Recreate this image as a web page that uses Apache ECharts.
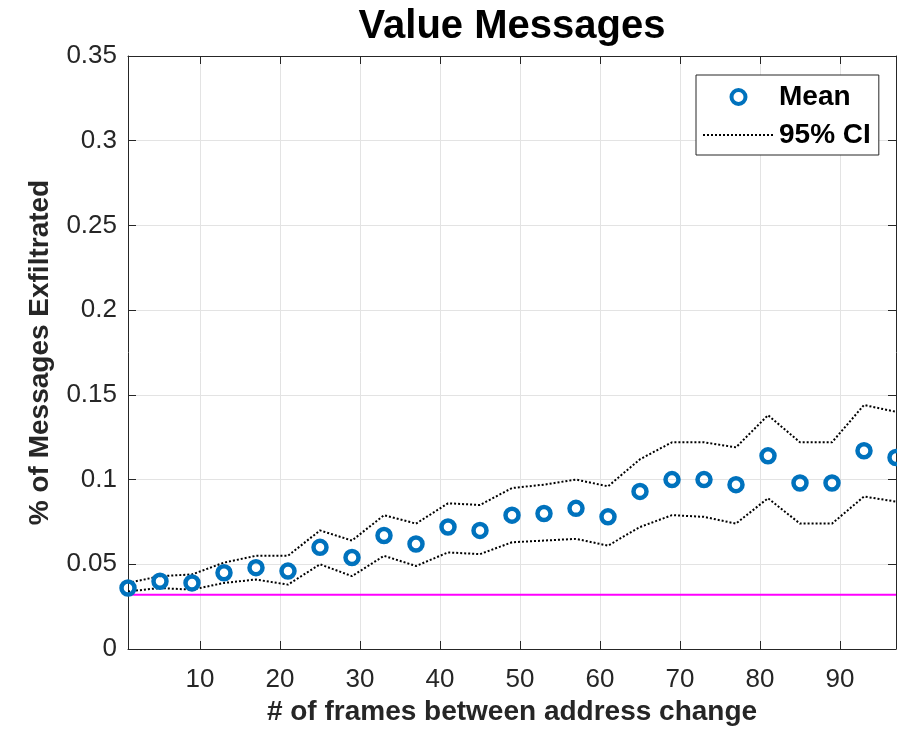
<!DOCTYPE html>
<html>
<head>
<meta charset="utf-8">
<script src="https://cdn.jsdelivr.net/npm/echarts@6/dist/echarts.min.js"></script>
<style>html,body{margin:0;padding:0;background:#fff;}#chart{width:897px;height:734px;}</style>
</head>
<body>
<div id="chart"></div>
<script>
var frames = [1, 5, 9, 13, 17, 21, 25, 29, 33, 37, 41, 45, 49, 53, 57, 61, 65, 69, 73, 77, 81, 85, 89, 93, 97];
var meanVals = [0.036, 0.040, 0.039, 0.045, 0.048, 0.046, 0.060, 0.054, 0.067, 0.062, 0.072, 0.070, 0.079, 0.080, 0.083, 0.078, 0.093, 0.100, 0.100, 0.097, 0.114, 0.098, 0.098, 0.117, 0.113];
var ciUpper = [0.039, 0.043, 0.044, 0.051, 0.055, 0.055, 0.070, 0.064, 0.079, 0.074, 0.086, 0.085, 0.095, 0.097, 0.100, 0.096, 0.112, 0.122, 0.122, 0.119, 0.138, 0.122, 0.122, 0.144, 0.140];
var ciLower = [0.034, 0.036, 0.035, 0.039, 0.041, 0.038, 0.050, 0.043, 0.055, 0.049, 0.057, 0.056, 0.063, 0.064, 0.065, 0.061, 0.072, 0.079, 0.078, 0.074, 0.089, 0.074, 0.074, 0.090, 0.087];
var baselineX = [1, 97];
var baselineY = [0.032, 0.032];
var xTicks = [10, 20, 30, 40, 50, 60, 70, 80, 90];

function pairs(xs, ys) { return xs.map(function (x, i) { return [x, ys[i]]; }); }

var FONT = "'Liberation Sans', Arial, Helvetica, sans-serif";
var AXC = '#262626';
var chart = echarts.init(document.getElementById('chart'), null, {renderer: 'canvas'});
chart.setOption({
  animation: false,
  backgroundColor: '#fff',
  title: {
    text: 'Value Messages', left: 512, textAlign: 'center', top: 7, padding: 0,
    textStyle: {fontFamily: FONT, fontSize: 40, fontWeight: 'bold', color: '#000', lineHeight: 40}
  },
  legend: {
    left: 696, top: 75, orient: 'vertical',
    padding: [8, 8, 6, 6], itemGap: 10, itemWidth: 71, itemHeight: 14, itemTextGap: 6,
    borderColor: AXC, borderWidth: 1, backgroundColor: '#fff',
    textStyle: {fontFamily: FONT, fontSize: 28, fontWeight: 'bold', color: '#000', lineHeight: 28},
    data: [
      {name: 'Mean', icon: 'circle', itemStyle: {color: 'rgba(0,0,0,0)', borderColor: '#0072BD', borderWidth: 4}},
      {name: '95% CI', itemStyle: {opacity: 0}}
    ]
  },
  grid: {left: 128, right: 1, top: 56, bottom: 85, containLabel: false},
  xAxis: [{
    type: 'value', min: 1, max: 97, position: 'bottom',
    name: '# of frames between address change', nameLocation: 'middle', nameGap: 44,
    nameTextStyle: {fontFamily: FONT, fontSize: 28, fontWeight: 'bold', color: AXC},
    axisLine: {show: true, onZero: false, lineStyle: {color: AXC, width: 1}},
    axisTick: {show: true, inside: true, length: 8, customValues: xTicks, lineStyle: {color: AXC}},
    axisLabel: {show: true, customValues: xTicks, margin: 18, fontFamily: FONT, fontSize: 26, color: AXC},
    splitLine: {show: true, lineStyle: {color: '#e3e3e3', width: 1}}
  }, {
    type: 'value', min: 1, max: 97, position: 'top',
    axisLine: {show: true, onZero: false, lineStyle: {color: AXC, width: 1}},
    axisTick: {show: true, inside: true, length: 8, customValues: xTicks, lineStyle: {color: AXC}},
    axisLabel: {show: false},
    splitLine: {show: false}
  }],
  yAxis: [{
    type: 'value', min: 0, max: 0.35, interval: 0.05, position: 'left',
    name: '% of Messages Exfiltrated', nameLocation: 'middle', nameGap: 74,
    nameTextStyle: {fontFamily: FONT, fontSize: 28, fontWeight: 'bold', color: AXC},
    axisLine: {show: true, onZero: false, lineStyle: {color: AXC, width: 1}},
    axisTick: {show: true, inside: true, length: 8, lineStyle: {color: AXC}},
    axisLabel: {show: true, margin: 11, fontFamily: FONT, fontSize: 26, color: AXC},
    splitLine: {show: true, lineStyle: {color: '#e3e3e3', width: 1}}
  }, {
    type: 'value', min: 0, max: 0.35, interval: 0.05, position: 'right',
    axisLine: {show: true, onZero: false, lineStyle: {color: AXC, width: 1}},
    axisTick: {show: true, inside: true, length: 8, lineStyle: {color: AXC}},
    axisLabel: {show: false},
    splitLine: {show: false}
  }],
  series: [
    {
      name: 'Baseline', type: 'line', xAxisIndex: 0, yAxisIndex: 0,
      data: pairs(baselineX, baselineY), symbol: 'none',
      lineStyle: {color: '#FF00FF', width: 2}, z: 2
    },
    {
      name: '95% CI', type: 'line', xAxisIndex: 0, yAxisIndex: 0,
      data: pairs(frames, ciUpper), symbol: 'none', color: '#000',
      itemStyle: {opacity: 0},
      lineStyle: {color: '#000', width: 2, type: 'dotted'}, z: 3
    },
    {
      name: '95% CI', type: 'line', xAxisIndex: 0, yAxisIndex: 0,
      data: pairs(frames, ciLower), symbol: 'none', color: '#000',
      itemStyle: {opacity: 0},
      lineStyle: {color: '#000', width: 2, type: 'dotted'}, z: 3
    },
    {
      name: 'Mean', type: 'scatter', xAxisIndex: 0, yAxisIndex: 0,
      data: pairs(frames, meanVals), symbol: 'circle', symbolSize: 13, clip: false,
      itemStyle: {color: 'rgba(0,0,0,0)', borderColor: '#0072BD', borderWidth: 4.5, opacity: 1}, z: 4
    }
  ]
});
</script>
</body>
</html>
